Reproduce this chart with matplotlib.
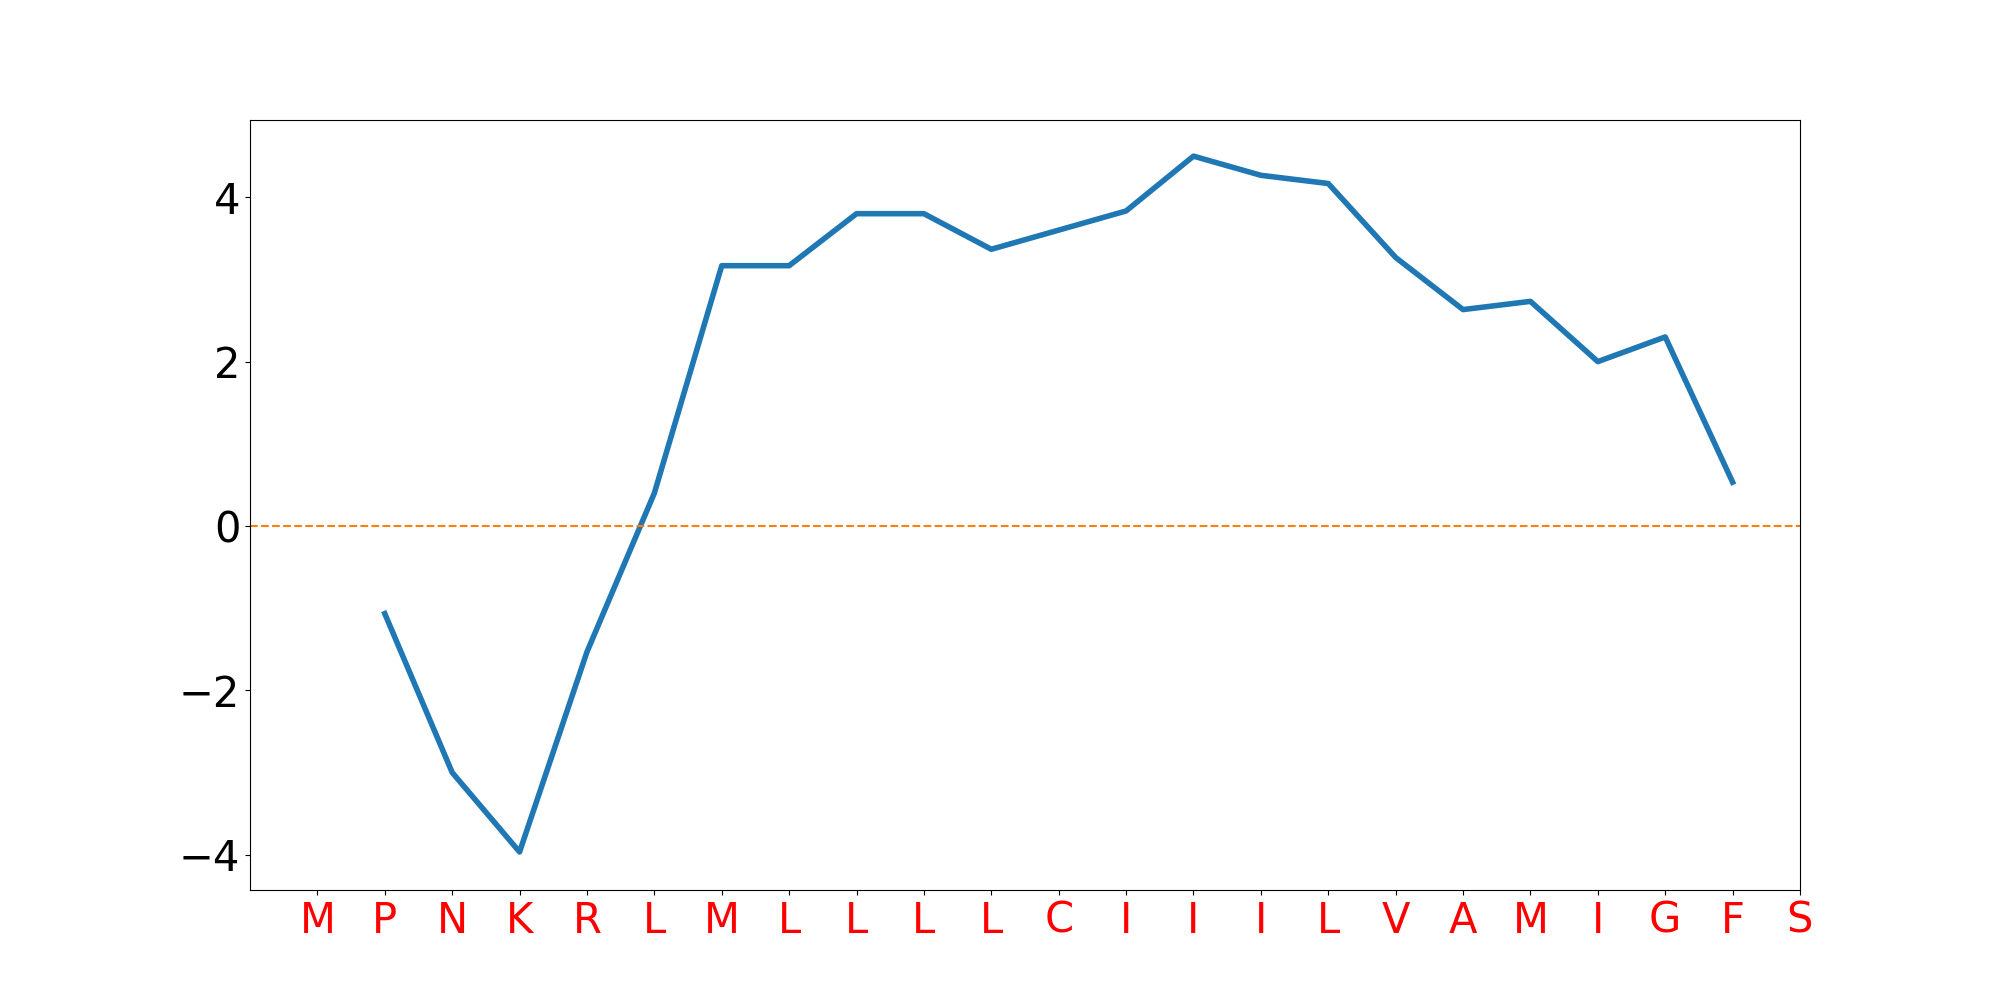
import matplotlib
matplotlib.use("Agg")
import matplotlib.pyplot as plt

residues = ["M", "P", "N", "K", "R", "L", "M", "L", "L", "L", "L", "C",
            "I", "I", "I", "L", "V", "A", "M", "I", "G", "F", "S"]
positions = list(range(1, 22))
hydropathy = [-1.067, -3.0, -3.967, -1.533, 0.4, 3.167, 3.167, 3.8, 3.8,
              3.367, 3.6, 3.833, 4.5, 4.267, 4.167, 3.267, 2.633, 2.733,
              2.0, 2.3, 0.533]

fig, ax = plt.subplots(figsize=(20, 10), dpi=100)
ax.plot(positions, hydropathy, color="C0", linewidth=4)
ax.axhline(0, color="C1", linestyle="--", linewidth=1.5)
ax.set_xticks(range(len(residues)))
ax.set_xticklabels(residues, color="red", fontsize=30)
ax.tick_params(axis="y", labelsize=30)
ax.set_xlim(-1, len(residues) - 1)
ax.set_ylim(-4.43, 4.94)
ax.set_yticks([-4, -2, 0, 2, 4])
fig.savefig("out.png")
